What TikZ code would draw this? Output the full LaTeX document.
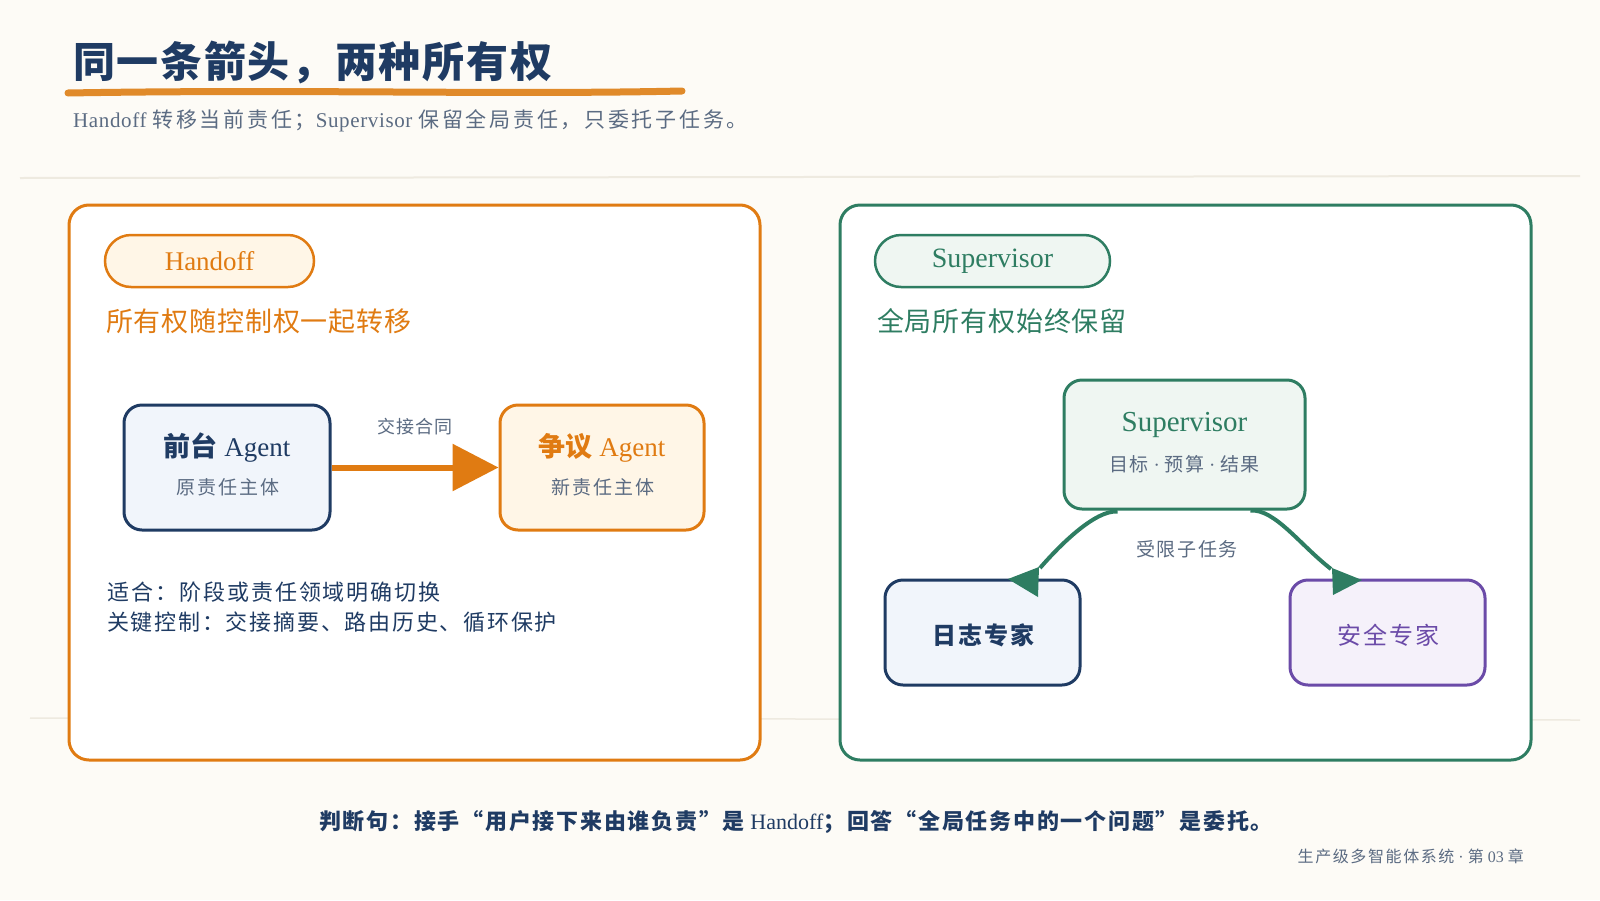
\documentclass[tikz,border=0pt]{standalone}
\usepackage{fontspec}
\setmainfont{Liberation Serif}
\newfontfamily\cjk{Noto Sans CJK SC}
\usetikzlibrary{arrows.meta,calc}
\definecolor{bg}{HTML}{FDFBF6}
\definecolor{navy}{HTML}{1F3B63}
\definecolor{orng}{HTML}{E07B12}
\definecolor{uline}{HTML}{E08A2A}
\definecolor{grn}{HTML}{2E7D62}
\definecolor{purp}{HTML}{6B4BA8}
\definecolor{gtext}{HTML}{5B6B82}
\definecolor{navyfill}{HTML}{F1F5FB}
\definecolor{orfill}{HTML}{FFF6E7}
\definecolor{grfill}{HTML}{EFF6F2}
\definecolor{pufill}{HTML}{F5F1FA}
\definecolor{faint}{HTML}{EEEAE0}
\newcommand\fsz[1]{\fontsize{#1}{#1}\selectfont}
\newcommand\zh[2]{{\cjk\addfontfeature{LetterSpace=#1}#2}}
\begin{document}
\begin{tikzpicture}[x=1pt,y=-1pt,
  panel/.style={draw=#1, line width=3, rounded corners=20, fill=white},
  pill/.style={draw=#1, line width=2.5, rounded corners=26, inner sep=0, minimum height=52},
  agentbox/.style={draw=#1, line width=3, rounded corners=18, inner sep=0},
  main/.style={inner sep=0, font=\fsz{27}},
  sub/.style={inner sep=0, text=gtext, font=\fsz{19}},
  body/.style={inner sep=0, anchor=base west, text=navy, font=\fsz{22}},
  heading/.style={inner sep=0, anchor=base west, font=\fsz{27}},
  flow/.style={grn, line width=4},
]
\useasboundingbox (0,0) rectangle (1600,900);
\fill[bg] (0,0) rectangle (1600,900);
% faint rules
\draw[faint, line width=2] (20,178) -- (1580,176);
\draw[faint, line width=1.5] (30,718) -- (1580,720);

% title
\node[inner sep=0, anchor=base west, text=navy, font=\fsz{42}] (title) at (73,77) {\zh{4}{\bfseries 同一条箭头，两种所有权}};
\draw[uline, line width=7, line cap=round] (68,93) .. controls (300,89) and (500,95) .. (682,91);
\node[inner sep=0, anchor=base west, text=gtext, font=\fsz{21}\addfontfeature{LetterSpace=3}] (subtitle) at (73,127)
  {Handoff \zh{13}{转移当前责任；}Supervisor \zh{13}{保留全局责任，只委托子任务。}};

% left panel
\node[panel=orng, minimum width=691, minimum height=555, inner sep=0] (lp) at (414.5,482.5) {};
\node[pill=orng, fill=orfill, minimum width=209, text=orng, font=\fsz{27}] (hpill) at (209.5,261) {Handoff};
\node[heading, text=orng] (lhead) at (106,331) {\zh{3}{所有权随控制权一起转移}};

\node[agentbox=navy, fill=navyfill, minimum width=206, minimum height=125] (fa) at (227,467.5) {};
\node[main, text=navy] (fat) at ($(fa.center)+(0,-20)$) {{\cjk\bfseries 前台} Agent};
\node[sub] (fas) at ($(fa.center)+(1,20)$) {\zh{11}{原责任主体}};

\node[agentbox=orng, fill=orfill, minimum width=204, minimum height=125] (da) at (602,467.5) {};
\node[main, text=orng] (dat) at ($(da.center)+(0,-20)$) {{\cjk\bfseries 争议} Agent};
\node[sub] (das) at ($(da.center)+(1,20)$) {\zh{11}{新责任主体}};

\draw[orng, line width=6, -{Triangle[length=46, width=46]}] (fa.east) -- (da.west);
\node[sub, font=\fsz{18}] (hlabel) at (415,427) {\zh{4}{交接合同}};

\node[body] (fit) at (107,600) {\zh{9}{适合：阶段或责任领域明确切换}};
\node[body] (ctrl) at (107,630) {\zh{8}{关键控制：交接摘要、路由历史、循环保护}};

% right panel
\node[panel=grn, minimum width=691, minimum height=555, inner sep=0] (rp) at (1185.5,482.5) {};
\node[pill=grn, fill=grfill, minimum width=235, text=grn, font=\fsz{28}] (spill) at (992.5,261) {Supervisor};
\node[heading, text=grn] (rhead) at (877,331) {\zh{3}{全局所有权始终保留}};

\node[agentbox=grn, fill=grfill, minimum width=241, minimum height=129] (sup) at (1184.5,444.5) {};
\node[main, text=grn, font=\fsz{29}] (supt) at ($(sup.center)+(0,-20)$) {Supervisor};
\node[sub] (sups) at ($(sup.center)+(0,20)$) {\zh{8}{目标}\ ·\ \zh{8}{预算}\ ·\ \zh{8}{结果}};

\node[agentbox=navy, fill=navyfill, minimum width=195, minimum height=105] (log) at (982.5,632.5) {};
\node[inner sep=0, text=navy, font=\fsz{24}] (logt) at ($(log.center)+(1,3)$) {\zh{8}{\bfseries 日志专家}};
\node[agentbox=purp, fill=pufill, minimum width=195, minimum height=105] (sec) at (1387.5,632.5) {};
\node[inner sep=0, text=purp, font=\fsz{24}] (sect) at ($(sec.center)+(1,3)$) {\zh{8}{安全专家}};

\coordinate (l0) at ($(sup.south)+(-67,1)$);
\coordinate (r0) at ($(sup.south)+(66,0)$);
\coordinate (lend) at (1040,568);
\coordinate (rend) at (1331,569);
\draw[flow] (l0) .. controls (1095,510) and (1060,545) .. (lend);
\fill[grn] (1008,579) -- (1039,567) -- (1038,597) -- cycle;
\draw[flow] (r0) .. controls (1275,509) and (1300,545) .. (rend);
\fill[grn] (1362,580) -- (1332,568) -- (1333,595) -- cycle;
\node[sub] (sublabel) at (1187,549) {\zh{9}{受限子任务}};

% bottom
\node[inner sep=0, anchor=base, text=navy, font=\fsz{22}] (judge) at (796,829)
  {\zh{8}{\bfseries 判断句：接手“用户接下来由谁负责”是} Handoff\zh{8}{\bfseries ；回答“全局任务中的一个问题”是委托。}};
\node[inner sep=0, anchor=base east, text=gtext, font=\fsz{16}] (footer) at (1524,862)
  {\zh{10}{生产级多智能体系统}\ ·\ \zh{10}{第} 03 \zh{10}{章}};
\end{tikzpicture}
\end{document}
